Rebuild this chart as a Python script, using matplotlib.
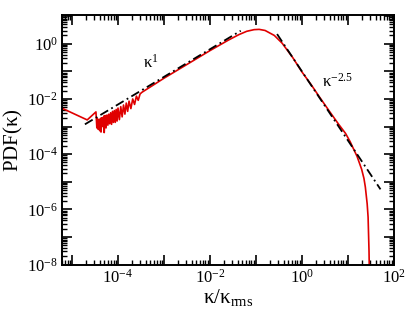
import numpy as np
import matplotlib
matplotlib.use("Agg")
import matplotlib.pyplot as plt
from matplotlib.ticker import LogLocator, FuncFormatter, NullFormatter

plt.rcParams['font.family'] = ['Liberation Serif', 'DejaVu Serif']
plt.rcParams['mathtext.fontset'] = 'custom'
plt.rcParams['mathtext.rm'] = 'Liberation Serif'
plt.rcParams['mathtext.it'] = 'Liberation Serif'
plt.rcParams['mathtext.default'] = 'regular'

# PDF curve as (log10 kappa, log10 PDF)
pdf_logx = [-5.24, -4.67, -4.48, -4.46, -4.45, -4.43, -4.42, -4.40, -4.38, -4.37,
            -4.35, -4.33, -4.31, -4.30, -4.28, -4.26, -4.24, -4.22, -4.20, -4.18,
            -4.16, -4.14, -4.12, -4.10, -4.08, -4.06, -4.04, -4.02, -4.00, -3.97,
            -3.94, -3.91, -3.88, -3.85, -3.82, -3.79, -3.76, -3.72, -3.68, -3.64,
            -3.60, -3.56, -3.52, -3.48, -3.00, -2.50, -2.00, -1.60, -1.37, -1.20,
            -1.04, -0.93, -0.80, -0.60, -0.43, -0.20, 0.00, 0.20, 0.37, 0.60,
            0.80, 0.95, 1.05, 1.12, 1.20, 1.30, 1.35, 1.38, 1.42, 1.44,
            1.46, 1.47]
pdf_logy = [-2.32, -2.76, -2.47, -3.05, -2.70, -3.10, -2.75, -3.15, -2.70, -3.20,
            -2.68, -3.00, -2.62, -3.22, -2.60, -3.05, -2.58, -2.95, -2.55, -2.90,
            -2.50, -2.92, -2.45, -2.85, -2.42, -2.85, -2.38, -2.80, -2.33, -2.75,
            -2.28, -2.65, -2.22, -2.55, -2.15, -2.45, -2.08, -2.35, -2.00, -2.20,
            -1.90, -2.05, -1.82, -1.76, -1.25, -0.75, -0.25, 0.13, 0.33, 0.45,
            0.51, 0.52, 0.48, 0.30, 0.02, -0.50, -1.02, -1.48, -1.90, -2.45,
            -2.92, -3.25, -3.55, -3.80, -4.08, -4.55, -4.88, -5.19, -5.80, -6.28,
            -7.50, -8.50]

# reference power laws: exponent, prefactor, x range
law1_exp, law1_amp, law1_x = 1.0, 10 ** 1.8, [10 ** -4.72, 10 ** -1.33]
law2_exp, law2_amp, law2_x = -2.5, 10 ** -1.0, [10 ** -0.54, 10 ** 1.71]

x = 10.0 ** np.array(pdf_logx)
y = 10.0 ** np.array(pdf_logy)

fig = plt.figure(figsize=(4.15, 3.12), dpi=100)
ax = fig.add_axes([0.149, 0.152, 0.800, 0.800])

ax.plot(x, y, color='#e00000', lw=1.2)

xl = np.array(law1_x)
ax.plot(xl, law1_amp * xl ** law1_exp, color='black', lw=1.3, dashes=[5, 2, 1, 2])
xl = np.array(law2_x)
ax.plot(xl, law2_amp * xl ** law2_exp, color='black', lw=1.3, dashes=[5, 2, 1, 2])

ax.text(10 ** -3.28, 10 ** -0.69, r'$\kappa^{1}$', fontsize=12, ha='center', va='center')
ax.text(10 ** 0.78, 10 ** -1.38, r'$\kappa^{-2.5}$', fontsize=12, ha='center', va='center')

ax.set_xscale('log')
ax.set_yscale('log')
ax.set_xlim(6e-6, 100)
ax.set_ylim(1e-8, 11)

def fmt(v, pos):
    e = int(round(np.log10(v)))
    if e % 2 != 0:
        return ''
    return r'$10^{%d}$' % e

for axis in (ax.xaxis, ax.yaxis):
    axis.set_major_locator(LogLocator(base=10, numticks=30))
    axis.set_minor_locator(LogLocator(base=10, subs=np.arange(2, 10), numticks=30))
    axis.set_major_formatter(FuncFormatter(fmt))
    axis.set_minor_formatter(NullFormatter())

ax.tick_params(which='both', direction='in', top=True, right=True, labelsize=12)
ax.tick_params(which='major', length=7, width=1.2, pad=3)
ax.tick_params(which='minor', length=3.5, width=1.0)
for s in ax.spines.values():
    s.set_linewidth(1.4)

ax.set_xlabel(r'$\kappa/\kappa_{rms}$', fontsize=15, labelpad=0)
ax.set_ylabel(r'PDF($\kappa$)', fontsize=15)
ax.yaxis.set_label_coords(-0.11, 0.5)

fig.savefig('out.png', dpi=100)
